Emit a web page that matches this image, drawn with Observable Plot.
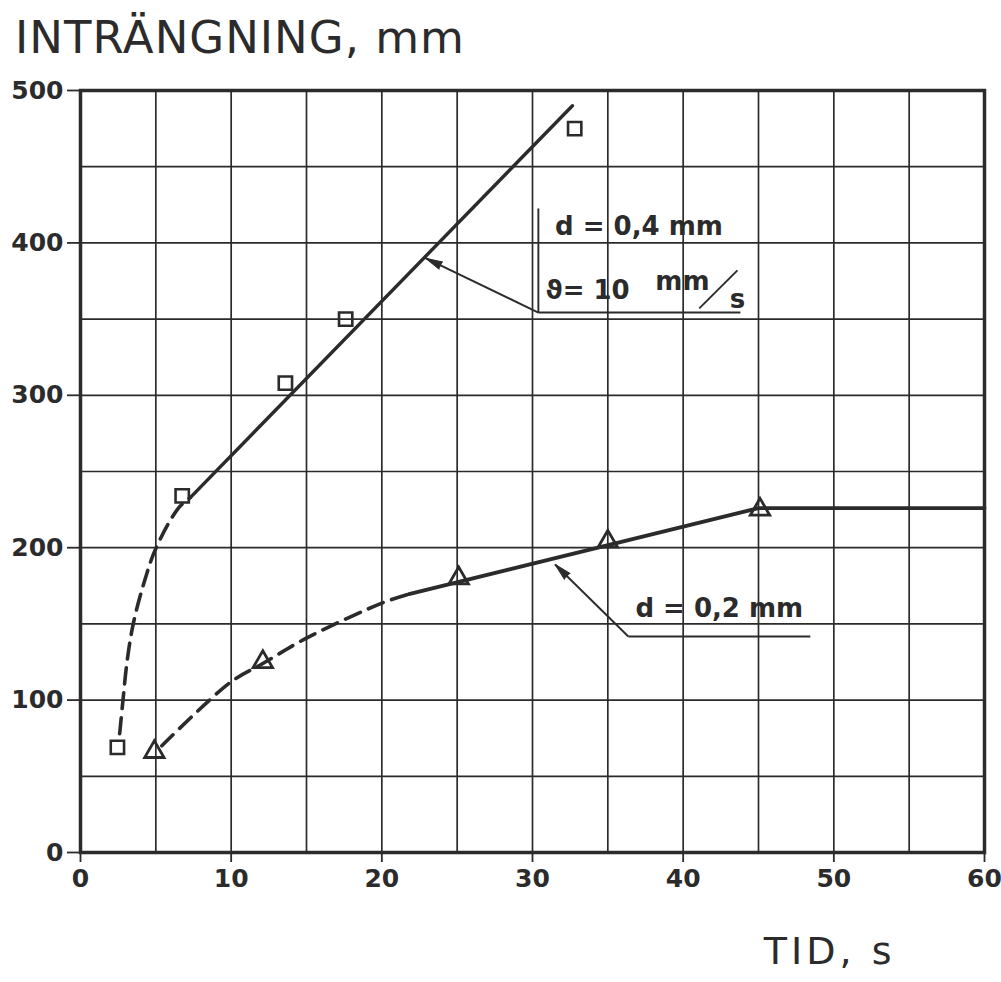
<!DOCTYPE html>
<html><head><meta charset="utf-8">
<script src="https://cdn.jsdelivr.net/npm/d3@7"></script>
<script src="https://cdn.jsdelivr.net/npm/@observablehq/plot@0.6"></script>
<style>
body{margin:0;background:#fff;}
#title{position:relative;height:60px;}
#title span{position:absolute;left:15px;top:8px;font:45px "DejaVu Sans";letter-spacing:1px;color:#2b2b2b;line-height:60px;white-space:pre;}
g[aria-description="xlabel"] text{letter-spacing:4px;}
</style></head><body>
<div id="title"><span>INTRÄNGNING, mm</span></div>
<div id="chart"></div>
<script>
// measured points (time s, penetration mm)
const squareTime = [2.45, 6.75, 13.6, 17.6, 32.8];
const squareDepth = [69, 234, 308, 350, 475];
const triangleTime = [4.9, 12.1, 25.1, 35, 45.1];
const triangleDepth = [66, 125, 180, 204, 225];

// fitted curves, d = 0,4 mm
const upperDashedTime = [2.6, 2.8, 3.1, 3.5, 4.2, 5.0, 6.5, 7.3];
const upperDashedDepth = [78, 98, 126, 150, 176.5, 199.5, 226, 233];
const upperSolidTime = [7.3, 32.65];
const upperSolidDepth = [233, 490];
// fitted curves, d = 0,2 mm
const lowerDashedTime = [5.4, 9.95, 12.1, 15.06, 20.1, 21.8];
const lowerDashedDepth = [70, 111.7, 124, 141, 164, 169.5];
const lowerSolidTime = [21.8, 45, 60];
const lowerSolidDepth = [169.5, 226, 226];

// ticks
const xTicks = [0, 10, 20, 30, 40, 50, 60];
const yTicks = [0, 100, 200, 300, 400, 500];
const xGrid = [5, 10, 15, 20, 25, 30, 35, 40, 45, 50, 55];
const yGrid = [50, 100, 150, 200, 250, 300, 350, 400, 450];

// annotations
const noteText = ["d = 0,4 mm", "ϑ= 10", "mm", "s", "d = 0,2 mm"];
const noteTime = [31.5, 30.86, 38.15, 43.1, 36.83];
const noteDepth = [405, 363.5, 368.8, 357, 154.2];
const leaderX1 = [30.39, 30.39, 30.39, 36.36, 36.36, 41.07];
const leaderY1 = [422.6, 354.3, 354.3, 141.7, 141.7, 357];
const leaderX2 = [30.39, 43.8, 22.9, 48.44, 31.5, 43.6];
const leaderY2 = [354.3, 354.3, 390, 141.7, 189, 382];
const arrowTailIdx = [2, 4];

const ink = "#2b2b2b";
const W = 1001, H = 922, mL = 80, mR = 17, mT = 30, mB = 130;
const xPx = d3.scaleLinear([0, 60], [mL, W - mR]);
const yPx = d3.scaleLinear([0, 500], [H - mB, mT]);

const toPts = (t, d) => t.map((v, i) => ({t: v, d: d[i]}));
const squares = toPts(squareTime, squareDepth);
const triangles = toPts(triangleTime, triangleDepth);
const notes = noteText.map((s, i) => ({s, t: noteTime[i], d: noteDepth[i]}));
const leaders = leaderX1.map((v, i) => ({x1: v, y1: leaderY1[i], x2: leaderX2[i], y2: leaderY2[i]}));
const heads = arrowTailIdx.map(i => {
  const L = leaders[i];
  const ang = Math.atan2(xPx(L.x2) - xPx(L.x1), -(yPx(L.y2) - yPx(L.y1))) * 180 / Math.PI;
  return {t: L.x2, d: L.y2, a: ang};
});

const chart = Plot.plot({
  width: W, height: H,
  marginLeft: mL, marginRight: mR, marginTop: mT, marginBottom: mB,
  x: {domain: [0, 60]},
  y: {domain: [0, 500]},
  style: {fontFamily: "DejaVu Sans", color: ink, background: "white", overflow: "visible"},
  marks: [
    Plot.gridX(xGrid, {stroke: ink, strokeOpacity: 1, strokeWidth: 1.7}),
    Plot.gridY(yGrid, {stroke: ink, strokeOpacity: 1, strokeWidth: 1.7}),
    Plot.axisX(xTicks, {tickSize: 10, tickPadding: 7, fontSize: 25, fontWeight: "bold", strokeWidth: 1.8, label: null}),
    Plot.axisY(yTicks, {tickSize: 13, tickPadding: 4, fontSize: 25, fontWeight: "bold", strokeWidth: 1.8, label: null}),
    Plot.frame({stroke: ink, strokeWidth: 3.5}),
    Plot.line(toPts(upperDashedTime, upperDashedDepth), {x: "t", y: "d", curve: "catmull-rom", stroke: ink, strokeWidth: 3.6, strokeDasharray: "16,9"}),
    Plot.line(toPts(upperSolidTime, upperSolidDepth), {x: "t", y: "d", stroke: ink, strokeWidth: 3.4}),
    Plot.line(toPts(lowerDashedTime, lowerDashedDepth), {x: "t", y: "d", curve: "catmull-rom", stroke: ink, strokeWidth: 3.6, strokeDasharray: "16,9"}),
    Plot.line(toPts(lowerSolidTime, lowerSolidDepth), {x: "t", y: "d", stroke: ink, strokeWidth: 3.8}),
    Plot.dot(squares, {x: "t", y: "d", symbol: "square", r: 7.5, stroke: ink, strokeWidth: 2.6, fill: "none"}),
    Plot.dot(triangles, {x: "t", y: "d", symbol: "triangle", r: 7.2, stroke: ink, strokeWidth: 2.8, fill: "none"}),
    Plot.link(leaders, {x1: "x1", y1: "y1", x2: "x2", y2: "y2", stroke: ink, strokeWidth: 1.9}),
    Plot.vector(heads, {x: "t", y: "d", rotate: "a", length: 17, r: 4, shape: "spike", anchor: "end", fill: ink, stroke: ink, strokeWidth: 1}),
    Plot.text(notes, {x: "t", y: "d", text: "s", textAnchor: "start", lineAnchor: "bottom", fontSize: 26, fontWeight: "bold", fill: ink}),
    Plot.text(["TID, s"], {frameAnchor: "bottom-right", dx: -89, dy: 111, textAnchor: "end", lineAnchor: "bottom", fontSize: 38, fill: ink, ariaDescription: "xlabel"})
  ]
});
document.getElementById("chart").appendChild(chart);
</script>
</body></html>
